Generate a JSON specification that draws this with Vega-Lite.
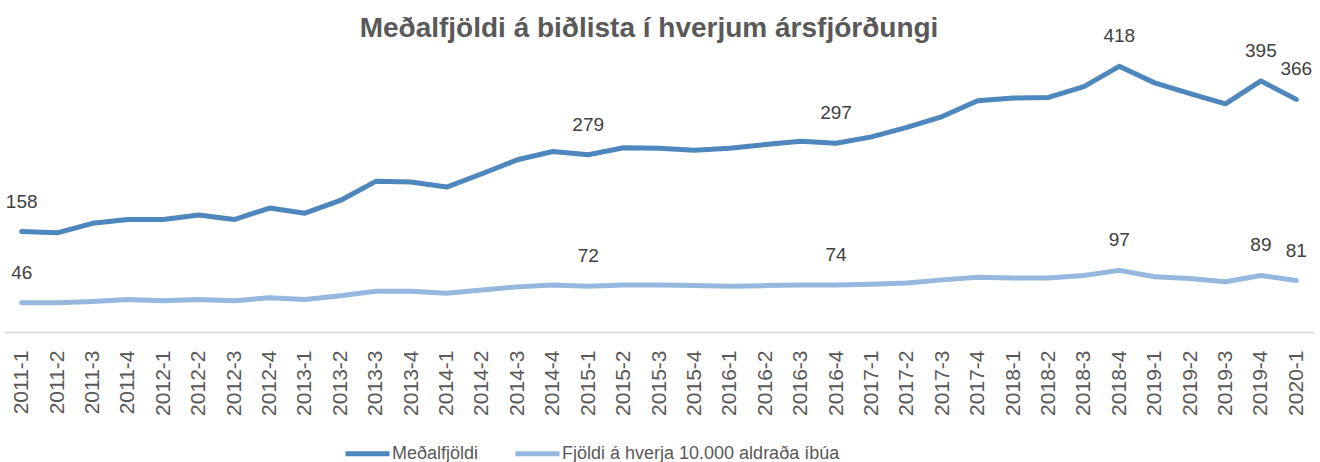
{
  "$schema": "https://vega.github.io/schema/vega-lite/v6.json",
  "width": 1310,
  "height": 286,
  "autosize": {"type": "none"},
  "padding": {"left": 4, "top": 46, "right": 6, "bottom": 130},
  "background": "white",
  "config": {"view": {"stroke": null}, "font": "Liberation Sans"},
  "title": {
    "text": "Meðalfjöldi á biðlista í hverjum ársfjórðungi",
    "fontSize": 28,
    "fontWeight": "bold",
    "color": "#595959",
    "font": "Liberation Sans",
    "anchor": "middle",
    "offset": -16,
    "dx": -10
  },
  "data": {
    "values": [
      {"q": "2011-1", "s": "Meðalfjöldi", "v": 158}, {"q": "2011-1", "s": "Fjöldi á hverja 10.000 aldraða íbúa", "v": 46},
      {"q": "2011-2", "s": "Meðalfjöldi", "v": 156}, {"q": "2011-2", "s": "Fjöldi á hverja 10.000 aldraða íbúa", "v": 46},
      {"q": "2011-3", "s": "Meðalfjöldi", "v": 171}, {"q": "2011-3", "s": "Fjöldi á hverja 10.000 aldraða íbúa", "v": 48},
      {"q": "2011-4", "s": "Meðalfjöldi", "v": 177}, {"q": "2011-4", "s": "Fjöldi á hverja 10.000 aldraða íbúa", "v": 51},
      {"q": "2012-1", "s": "Meðalfjöldi", "v": 177}, {"q": "2012-1", "s": "Fjöldi á hverja 10.000 aldraða íbúa", "v": 49},
      {"q": "2012-2", "s": "Meðalfjöldi", "v": 184}, {"q": "2012-2", "s": "Fjöldi á hverja 10.000 aldraða íbúa", "v": 51},
      {"q": "2012-3", "s": "Meðalfjöldi", "v": 177}, {"q": "2012-3", "s": "Fjöldi á hverja 10.000 aldraða íbúa", "v": 49},
      {"q": "2012-4", "s": "Meðalfjöldi", "v": 195}, {"q": "2012-4", "s": "Fjöldi á hverja 10.000 aldraða íbúa", "v": 54},
      {"q": "2013-1", "s": "Meðalfjöldi", "v": 187}, {"q": "2013-1", "s": "Fjöldi á hverja 10.000 aldraða íbúa", "v": 51},
      {"q": "2013-2", "s": "Meðalfjöldi", "v": 207}, {"q": "2013-2", "s": "Fjöldi á hverja 10.000 aldraða íbúa", "v": 57},
      {"q": "2013-3", "s": "Meðalfjöldi", "v": 237}, {"q": "2013-3", "s": "Fjöldi á hverja 10.000 aldraða íbúa", "v": 64},
      {"q": "2013-4", "s": "Meðalfjöldi", "v": 236}, {"q": "2013-4", "s": "Fjöldi á hverja 10.000 aldraða íbúa", "v": 64},
      {"q": "2014-1", "s": "Meðalfjöldi", "v": 228}, {"q": "2014-1", "s": "Fjöldi á hverja 10.000 aldraða íbúa", "v": 61},
      {"q": "2014-2", "s": "Meðalfjöldi", "v": 249}, {"q": "2014-2", "s": "Fjöldi á hverja 10.000 aldraða íbúa", "v": 66},
      {"q": "2014-3", "s": "Meðalfjöldi", "v": 271}, {"q": "2014-3", "s": "Fjöldi á hverja 10.000 aldraða íbúa", "v": 71},
      {"q": "2014-4", "s": "Meðalfjöldi", "v": 284}, {"q": "2014-4", "s": "Fjöldi á hverja 10.000 aldraða íbúa", "v": 74},
      {"q": "2015-1", "s": "Meðalfjöldi", "v": 279}, {"q": "2015-1", "s": "Fjöldi á hverja 10.000 aldraða íbúa", "v": 72},
      {"q": "2015-2", "s": "Meðalfjöldi", "v": 290}, {"q": "2015-2", "s": "Fjöldi á hverja 10.000 aldraða íbúa", "v": 74},
      {"q": "2015-3", "s": "Meðalfjöldi", "v": 289}, {"q": "2015-3", "s": "Fjöldi á hverja 10.000 aldraða íbúa", "v": 74},
      {"q": "2015-4", "s": "Meðalfjöldi", "v": 286}, {"q": "2015-4", "s": "Fjöldi á hverja 10.000 aldraða íbúa", "v": 73},
      {"q": "2016-1", "s": "Meðalfjöldi", "v": 289}, {"q": "2016-1", "s": "Fjöldi á hverja 10.000 aldraða íbúa", "v": 72},
      {"q": "2016-2", "s": "Meðalfjöldi", "v": 295}, {"q": "2016-2", "s": "Fjöldi á hverja 10.000 aldraða íbúa", "v": 73},
      {"q": "2016-3", "s": "Meðalfjöldi", "v": 300}, {"q": "2016-3", "s": "Fjöldi á hverja 10.000 aldraða íbúa", "v": 74},
      {"q": "2016-4", "s": "Meðalfjöldi", "v": 297}, {"q": "2016-4", "s": "Fjöldi á hverja 10.000 aldraða íbúa", "v": 74},
      {"q": "2017-1", "s": "Meðalfjöldi", "v": 307}, {"q": "2017-1", "s": "Fjöldi á hverja 10.000 aldraða íbúa", "v": 75},
      {"q": "2017-2", "s": "Meðalfjöldi", "v": 322}, {"q": "2017-2", "s": "Fjöldi á hverja 10.000 aldraða íbúa", "v": 77},
      {"q": "2017-3", "s": "Meðalfjöldi", "v": 339}, {"q": "2017-3", "s": "Fjöldi á hverja 10.000 aldraða íbúa", "v": 82},
      {"q": "2017-4", "s": "Meðalfjöldi", "v": 364}, {"q": "2017-4", "s": "Fjöldi á hverja 10.000 aldraða íbúa", "v": 86},
      {"q": "2018-1", "s": "Meðalfjöldi", "v": 368}, {"q": "2018-1", "s": "Fjöldi á hverja 10.000 aldraða íbúa", "v": 85},
      {"q": "2018-2", "s": "Meðalfjöldi", "v": 369}, {"q": "2018-2", "s": "Fjöldi á hverja 10.000 aldraða íbúa", "v": 85},
      {"q": "2018-3", "s": "Meðalfjöldi", "v": 386}, {"q": "2018-3", "s": "Fjöldi á hverja 10.000 aldraða íbúa", "v": 89},
      {"q": "2018-4", "s": "Meðalfjöldi", "v": 418}, {"q": "2018-4", "s": "Fjöldi á hverja 10.000 aldraða íbúa", "v": 97},
      {"q": "2019-1", "s": "Meðalfjöldi", "v": 392}, {"q": "2019-1", "s": "Fjöldi á hverja 10.000 aldraða íbúa", "v": 87},
      {"q": "2019-2", "s": "Meðalfjöldi", "v": 375}, {"q": "2019-2", "s": "Fjöldi á hverja 10.000 aldraða íbúa", "v": 84},
      {"q": "2019-3", "s": "Meðalfjöldi", "v": 359}, {"q": "2019-3", "s": "Fjöldi á hverja 10.000 aldraða íbúa", "v": 79},
      {"q": "2019-4", "s": "Meðalfjöldi", "v": 395}, {"q": "2019-4", "s": "Fjöldi á hverja 10.000 aldraða íbúa", "v": 89},
      {"q": "2020-1", "s": "Meðalfjöldi", "v": 366}, {"q": "2020-1", "s": "Fjöldi á hverja 10.000 aldraða íbúa", "v": 81}
    ]
  },
  "encoding": {
    "x": {
      "field": "q",
      "type": "ordinal",
      "sort": null,
      "axis": {
        "title": null,
        "labelAngle": -90,
        "labelFontSize": 21,
        "labelColor": "#595959",
        "ticks": false,
        "domainColor": "#d9d9d9",
        "domainWidth": 1.5,
        "labelPadding": 18,
        "grid": false
      }
    },
    "y": {
      "field": "v",
      "type": "quantitative",
      "scale": {"domain": [0, 450], "nice": false, "zero": true},
      "axis": null
    }
  },
  "layer": [
    {
      "mark": {"type": "line", "strokeWidth": 5, "strokeCap": "round", "strokeJoin": "round"},
      "encoding": {
        "color": {
          "field": "s",
          "type": "nominal",
          "scale": {
            "domain": ["Meðalfjöldi", "Fjöldi á hverja 10.000 aldraða íbúa"],
            "range": ["#4e86be", "#95b8e0"]
          },
          "legend": {
            "title": null,
            "orient": "none",
            "legendX": 339,
            "legendY": 383,
            "direction": "horizontal",
            "symbolType": "stroke",
            "symbolSize": 1936,
            "symbolStrokeWidth": 5,
            "labelFontSize": 18,
            "labelColor": "#595959",
            "labelLimit": 400,
            "labelOffset": 0,
            "columnPadding": 26,
            "padding": 0
          }
        }
      }
    },
    {
      "transform": [
        {"filter": {"field": "q", "oneOf": ["2011-1", "2015-1", "2016-4", "2018-4", "2019-4", "2020-1"]}}
      ],
      "mark": {"type": "text", "dy": -30, "fontSize": 19, "color": "#404040", "baseline": "middle"},
      "encoding": {
        "text": {"field": "v", "type": "quantitative"}
      }
    }
  ]
}
